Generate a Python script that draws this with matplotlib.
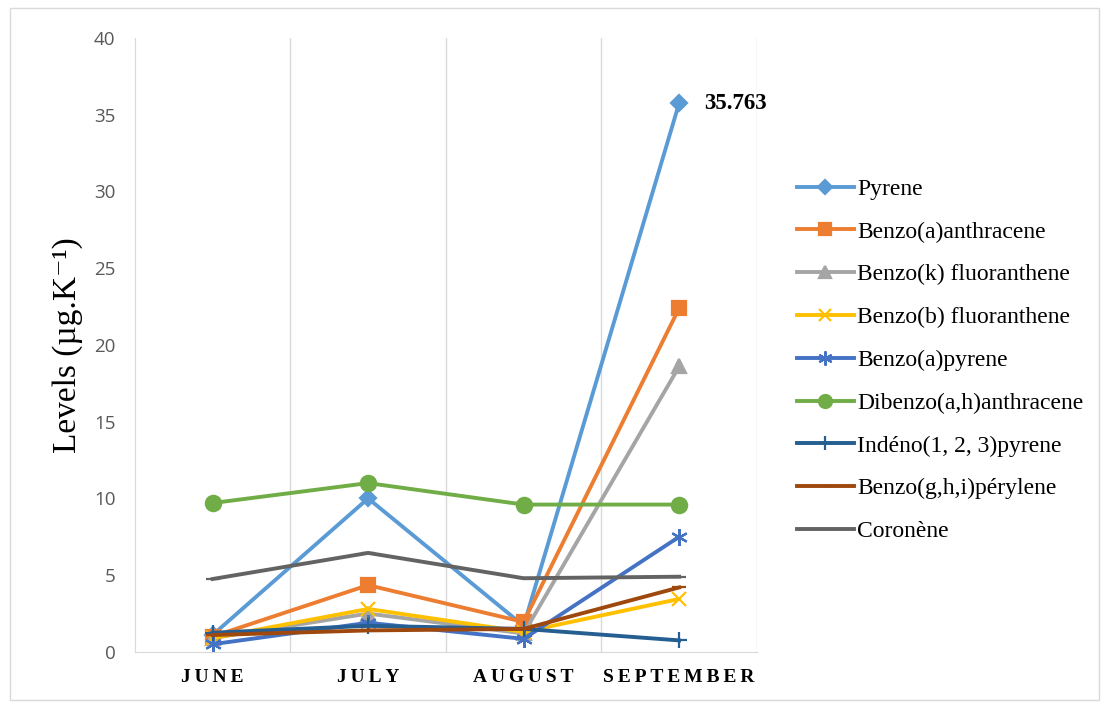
import matplotlib.pyplot as plt
from matplotlib.patches import Rectangle
import numpy as np

months = ["JUNE", "JULY", "AUGUST", "SEPTEMBER"]

pyrene = [1.1, 10.0, 1.7, 35.763]
benzo_a_anthracene = [1.0, 4.35, 1.95, 22.4]
benzo_k = [0.9, 2.5, 1.2, 18.6]
benzo_b = [0.9, 2.8, 1.3, 3.45]
benzo_a_pyrene = [0.5, 1.9, 0.85, 7.5]
dibenzo = [9.7, 11.0, 9.6, 9.6]
indeno = [1.25, 1.7, 1.5, 0.75]
benzo_ghi = [1.1, 1.4, 1.5, 4.2]
coronene = [4.75, 6.45, 4.8, 4.9]

series = [
    ("Pyrene", pyrene, "#5B9BD5", "D", 8),
    ("Benzo(a)anthracene", benzo_a_anthracene, "#ED7D31", "s", 10),
    ("Benzo(k) fluoranthene", benzo_k, "#A5A5A5", "^", 10),
    ("Benzo(b) fluoranthene", benzo_b, "#FFC000", "x", 10),
    ("Benzo(a)pyrene", benzo_a_pyrene, "#4472C4", (6, 2, 0), 12),
    ("Dibenzo(a,h)anthracene", dibenzo, "#70AD47", "o", 11),
    ("Indéno(1, 2, 3)pyrene", indeno, "#255E91", "+", 12),
    ("Benzo(g,h,i)pérylene", benzo_ghi, "#9E480E", "_", 10),
    ("Coronène", coronene, "#636363", "_", 10),
]

fig = plt.figure(figsize=(11.05, 7.04), dpi=100)
fig.patches.append(Rectangle((0.009, 0.006), 0.986, 0.983, transform=fig.transFigure,
                             fill=False, edgecolor="#D9D9D9", linewidth=1))
ax = fig.add_axes([0.122, 0.074, 0.563, 0.872])

x = np.arange(len(months))
for name, vals, col, mk, ms in series:
    ax.plot(x, vals, color=col, linewidth=2.8, marker=mk, markersize=ms,
            markeredgewidth=1.6, markeredgecolor=col, label=name)

ax.annotate("35.763", (3, pyrene[3]), xytext=(18, 0), textcoords="offset points",
            fontsize=16.5, fontweight="bold", family="Liberation Serif", va="center")

ax.set_xlim(-0.5, 3.5)
ax.set_ylim(0, 40)
ax.set_yticks(range(0, 41, 5))
ax.set_xticks(x)
ax.set_xticklabels(["\u2009".join(m) for m in months], family="Liberation Serif",
                   fontweight="bold", fontsize=14)
ax.set_xticks([0.5, 1.5, 2.5, 3.5], minor=True)
ax.grid(True, which="minor", axis="x", color="#D9D9D9", linewidth=1)
ax.tick_params(axis="both", which="both", length=0)
ax.tick_params(axis="y", labelsize=13.5, labelcolor="#595959", pad=14)
ax.tick_params(axis="x", pad=12)
for lab in ax.get_yticklabels():
    lab.set_family("Open Sans")

for side in ["top", "right"]:
    ax.spines[side].set_visible(False)
for side in ["left", "bottom"]:
    ax.spines[side].set_color("#D9D9D9")

ax.set_ylabel("Levels (µg.K\u207b\u00b9)", family=["Liberation Serif", "DejaVu Serif"],
              fontsize=24, labelpad=8)

leg = ax.legend(loc="center left", bbox_to_anchor=(1.03, 0.475), frameon=False,
                prop={"family": "Liberation Serif", "size": 17},
                handlelength=2.4, handletextpad=0.15, labelspacing=0.9)
for h in leg.legend_handles:
    h.set_markersize(h.get_markersize() * 0.85)

fig.savefig("out.png", dpi=100)
